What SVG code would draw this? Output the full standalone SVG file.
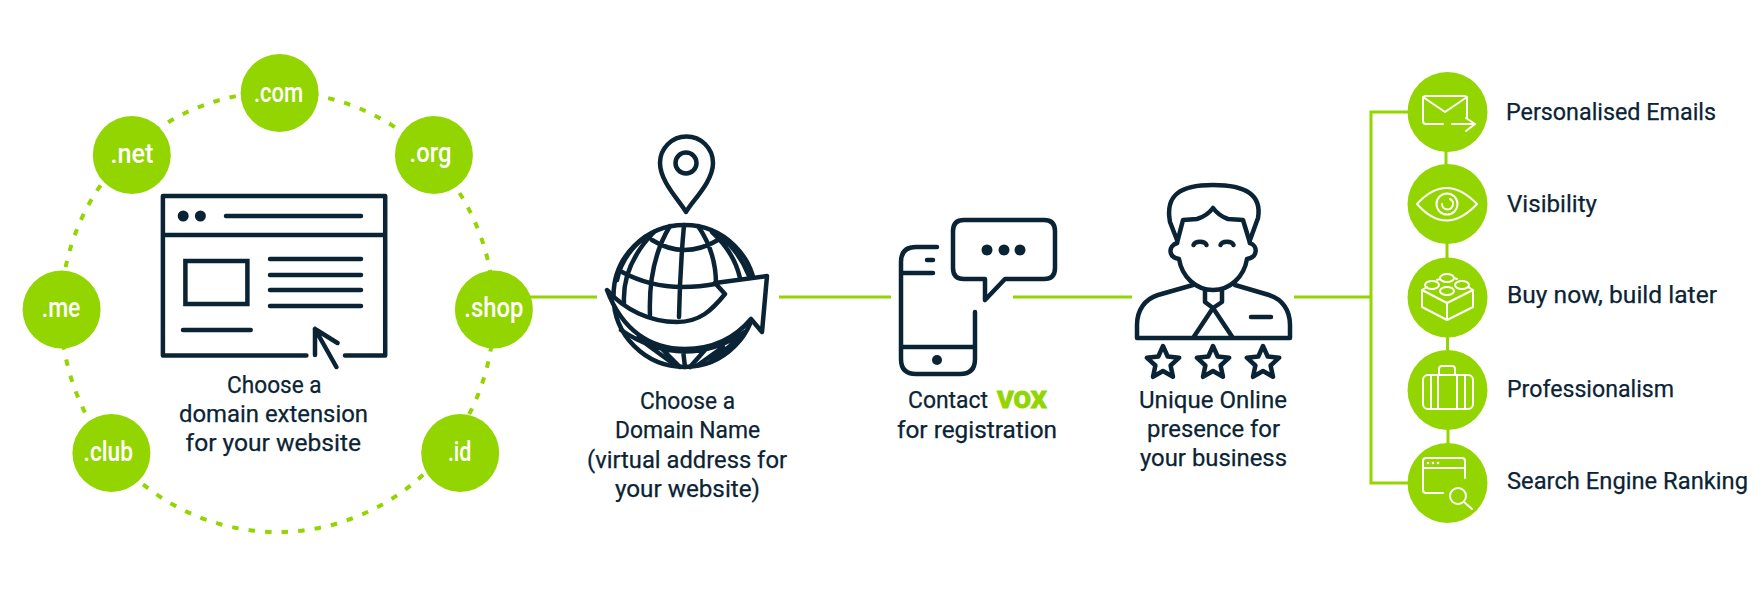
<svg xmlns="http://www.w3.org/2000/svg" xmlns:xlink="http://www.w3.org/1999/xlink" width="1763" height="594" viewBox="0 0 1763 594">
<style>
.g{fill:#93d500}
.c{fill:none;stroke:#93d500;stroke-width:3}
.d{fill:none;stroke:#0b2435;stroke-width:4.5;stroke-linecap:round;stroke-linejoin:round}
.df{fill:#0b2435}
.w{fill:none;stroke:#fff;stroke-width:2;stroke-linecap:round;stroke-linejoin:round}
.t{font-family:Roboto,"Liberation Sans",sans-serif;font-size:24.5px;fill:#0b2435;stroke:#0b2435;stroke-width:.25}
.b{font-family:Roboto,"Liberation Sans",sans-serif;font-size:28px;font-weight:500;fill:#fff}
</style>
<defs>
<polygon id="star" points="0,-17 4.7,-6.5 16.2,-5.3 7.6,2.5 10,13.8 0,8 -10,13.8 -7.6,2.5 -16.2,-5.3 -4.7,-6.5"/>
</defs>
<rect width="1763" height="594" fill="#fff"/>
<g id="connectors">
<ellipse cx="277.5" cy="312" rx="216.4" ry="220" fill="none" stroke="#93d500" stroke-width="4" stroke-dasharray="6.5 10.1"/>
<path class="c" d="M530 297H597M779 297H891M1013 297H1132M1294 297H1371M1408 112H1371V483H1408"/>
<path class="c" d="M1446 150V166M1447 242V260M1447.5 335V352M1448 428V445"/>
</g>
<g id="node-com"><circle class="g" cx="279.6" cy="93" r="39"/><text class="b" x="253.9" y="102" textLength="49.3" lengthAdjust="spacingAndGlyphs">.com</text></g>
<g id="node-net"><circle class="g" cx="131.8" cy="155" r="39"/><text class="b" x="110.4" y="163" textLength="42.9" lengthAdjust="spacingAndGlyphs">.net</text></g>
<g id="node-org"><circle class="g" cx="433.9" cy="155" r="39"/><text class="b" x="409.6" y="162" textLength="41.8" lengthAdjust="spacingAndGlyphs">.org</text></g>
<g id="node-me"><circle class="g" cx="61.6" cy="309.5" r="39"/><text class="b" x="41.8" y="317" textLength="38.6" lengthAdjust="spacingAndGlyphs">.me</text></g>
<g id="node-shop"><circle class="g" cx="493.9" cy="309.5" r="39"/><text class="b" x="464.3" y="317" textLength="59" lengthAdjust="spacingAndGlyphs">.shop</text></g>
<g id="node-club"><circle class="g" cx="111.4" cy="453" r="39"/><text class="b" x="83.6" y="461" textLength="49.3" lengthAdjust="spacingAndGlyphs">.club</text></g>
<g id="node-id"><circle class="g" cx="460.2" cy="453" r="39"/><text class="b" x="447.9" y="461" textLength="23.6" lengthAdjust="spacingAndGlyphs">.id</text></g>
<g id="node-extension">
<path class="d" d="M306.4 355.5H162.9V196H385.2V355.5H345M162.9 235H385.2M226 216H361M270 259H361M270 275H361M270 290H361M270 306H361M183 330H250.7M315 329L336.4 367M315 329V355M315 329L337.5 343"/>
<rect class="d" x="185.4" y="261" width="62" height="43" style="stroke-linejoin:miter"/>
<circle class="df" cx="183.2" cy="216" r="5.5"/><circle class="df" cx="200.4" cy="216" r="5.5"/>
<text class="t" x="227.1" y="393" textLength="94.5" lengthAdjust="spacingAndGlyphs">Choose a</text>
<text class="t" x="179" y="422" textLength="189" lengthAdjust="spacingAndGlyphs">domain extension</text>
<text class="t" x="185.6" y="451" textLength="175.5" lengthAdjust="spacingAndGlyphs">for your website</text>
</g>
<g id="node-domain">
<path class="d" d="M686 212C680 201 660 182 660 163A26.5 26.5 0 1 1 713 163C713 182 692 201 686 212Z"/>
<circle class="d" cx="686" cy="163" r="10.5"/>
<circle class="d" cx="684.5" cy="296" r="71"/>
<path class="d" d="M652 240Q684 260 718 240M622 272Q650 287 682 287Q700 287 715 284M684 225Q680 270 679 317M670 226Q648 262 650 315M654 232Q622 265 624 303M698 226Q716 252 716 284M712 232Q734 252 740 278M722 237Q740 253 749 276M645 237Q622 255 617 280M621 330Q683 372 745 332M638 338L675 365M663 350L680 367M683 350L685 367M705 350L690 367M723 347L698 365M740 338L710 362"/>
<path class="d" style="fill:#fff" d="M607 290C625 310 650 322 677 322C700 322 712 310 725 294L715 283L767 276L762 332L751 319C735 338 712 349 685 349C650 349 622 330 607 290Z"/>
<text class="t" x="640" y="409" textLength="95" lengthAdjust="spacingAndGlyphs">Choose a</text>
<text class="t" x="615" y="438" textLength="145" lengthAdjust="spacingAndGlyphs">Domain Name</text>
<text class="t" x="587" y="468" textLength="200" lengthAdjust="spacingAndGlyphs">(virtual address for</text>
<text class="t" x="615" y="497" textLength="145" lengthAdjust="spacingAndGlyphs">your website)</text>
</g>
<g id="node-contact">
<path class="d" d="M937 247H916Q901 247 901 262V359Q901 374 916 374H960Q975 374 975 359V312M902 273H933M927 260H933M901 347H975"/>
<circle class="df" cx="937" cy="360" r="5"/>
<path class="d" d="M964 220H1044Q1055 220 1055 231V268Q1055 279 1044 279H1005L985 300V279H964Q953 279 953 268V231Q953 220 964 220Z"/>
<circle class="df" cx="987" cy="250" r="5.5"/><circle class="df" cx="1004" cy="250" r="5.5"/><circle class="df" cx="1020" cy="250" r="5.5"/>
<text class="t" x="908" y="408" textLength="80" lengthAdjust="spacingAndGlyphs">Contact</text>
<text class="t" x="997" y="408" textLength="50" lengthAdjust="spacingAndGlyphs" style="font-weight:900;fill:#93d500;stroke:#93d500;stroke-width:.8">VOX</text>
<text class="t" x="897" y="438" textLength="160" lengthAdjust="spacingAndGlyphs">for registration</text>
</g>
<g id="node-presence">
<path class="d" d="M1177 240L1170 222C1165 195 1180 185 1213 185C1246 185 1262 195 1258 218L1250 240"/>
<path class="d" d="M1177 243L1183 220L1197 219Q1207 216 1213 208Q1219 216 1228 219L1243 220L1250 243"/>
<path class="d" d="M1177 243C1168 246 1168 257 1179 259C1182 277 1196 290 1213 290C1230 290 1244 277 1247 259C1258 257 1258 246 1250 243"/>
<path class="d" d="M1193.5 245C1195 240.5 1205 240.5 1206.5 245M1220.5 245C1222 240.5 1232 240.5 1233.5 245"/>
<path class="d" d="M1193 285L1158 295C1145 299 1137 310 1137 325V338H1290V325C1290 310 1282 299 1269 295L1235 285M1205 290V302L1213 308L1222 302V290M1213 308L1193 338M1213 308L1233 338M1251 317H1271"/>
<use xlink:href="#star" class="d" x="1163" y="363"/>
<use xlink:href="#star" class="d" x="1213" y="363"/>
<use xlink:href="#star" class="d" x="1263" y="363"/>
<text class="t" x="1139" y="408" textLength="148" lengthAdjust="spacingAndGlyphs">Unique Online</text>
<text class="t" x="1147" y="437" textLength="133" lengthAdjust="spacingAndGlyphs">presence for</text>
<text class="t" x="1140" y="466" textLength="147" lengthAdjust="spacingAndGlyphs">your business</text>
</g>
<g id="node-emails">
<circle class="g" cx="1447.5" cy="112" r="40"/>
<path class="w" d="M1443 124H1426Q1423 124 1423 121V99Q1423 96 1426 96H1464Q1467 96 1467 99V118M1423 97L1445 112L1467 97M1452 124H1475M1466 118L1475 124L1466 131"/>
<text class="t" x="1506" y="120" textLength="210" lengthAdjust="spacingAndGlyphs">Personalised Emails</text>
</g>
<g id="node-visibility">
<circle class="g" cx="1447.5" cy="204" r="40"/>
<path class="w" d="M1417 204Q1446 172 1477 204Q1446 237 1417 204Z"/>
<circle class="w" cx="1447" cy="204" r="10.5"/>
<path class="w" d="M1450 199A5.5 5.5 0 1 1 1442 204"/>
<text class="t" x="1507" y="212" textLength="90" lengthAdjust="spacingAndGlyphs">Visibility</text>
</g>
<g id="node-build">
<circle class="g" cx="1447.5" cy="297.5" r="40"/>
<path class="w" d="M1422 290L1447 303L1473 290V307L1447 320L1422 307ZM1447 303V320M1422 290L1427 287M1473 290L1468 287M1437 280L1440 279M1457 279L1454 278"/>
<ellipse class="w" cx="1447" cy="278" rx="7" ry="4"/>
<ellipse class="w" cx="1432" cy="285" rx="7" ry="4"/>
<ellipse class="w" cx="1462" cy="285" rx="7" ry="4"/>
<ellipse class="w" cx="1447" cy="291" rx="7" ry="4"/>
<text class="t" x="1507" y="303" textLength="210" lengthAdjust="spacingAndGlyphs">Buy now, build later</text>
</g>
<g id="node-professionalism">
<circle class="g" cx="1447.5" cy="390" r="40"/>
<rect class="w" x="1423" y="375" width="50" height="34" rx="5"/>
<path class="w" d="M1439 375V369Q1439 366 1442 366H1452Q1455 366 1455 369V375M1431 375V409M1438 375V409M1457 375V409M1465 375V409"/>
<text class="t" x="1507" y="397" textLength="167" lengthAdjust="spacingAndGlyphs">Professionalism</text>
</g>
<g id="node-ranking">
<circle class="g" cx="1447.5" cy="483" r="40"/>
<path class="w" d="M1443 493H1426Q1423 493 1423 490V461Q1423 458 1426 458H1462Q1465 458 1465 461V478M1423 468H1465M1464 502L1472 509"/>
<circle class="w" cx="1458" cy="496" r="8"/>
<circle cx="1428" cy="463" r="1.3" fill="#fff"/><circle cx="1433" cy="463" r="1.3" fill="#fff"/><circle cx="1438" cy="463" r="1.3" fill="#fff"/>
<text class="t" x="1507" y="489" textLength="241" lengthAdjust="spacingAndGlyphs">Search Engine Ranking</text>
</g>
</svg>
